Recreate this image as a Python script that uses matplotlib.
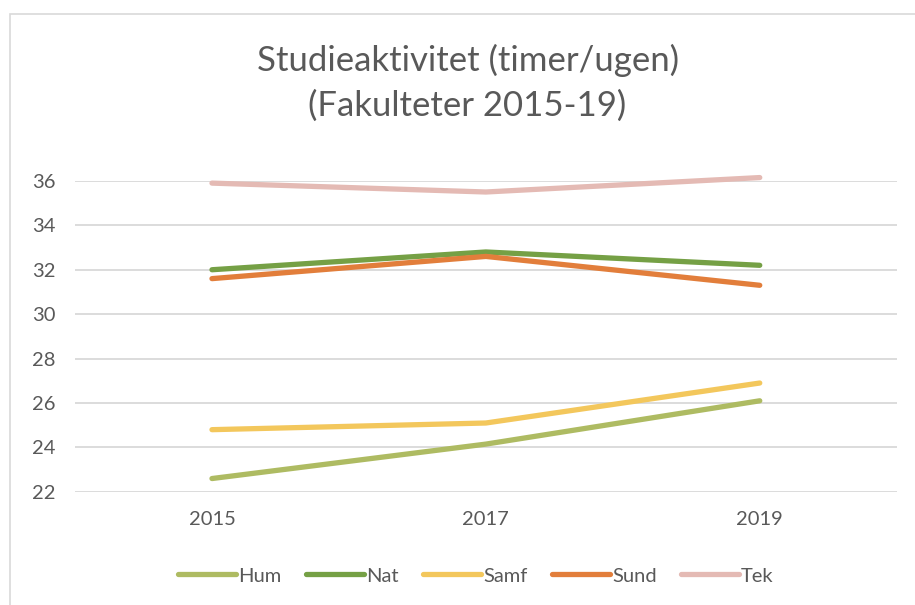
import matplotlib.pyplot as plt
from matplotlib.patches import Rectangle

years = ["2015", "2017", "2019"]
hum = [22.6, 24.15, 26.1]
nat = [32.0, 32.8, 32.2]
samf = [24.8, 25.1, 26.9]
sund = [31.6, 32.6, 31.3]
tek = [35.9, 35.5, 36.15]

names = ["Hum", "Nat", "Samf", "Sund", "Tek"]
series = [hum, nat, samf, sund, tek]
colors = ["#AEBB62", "#75A045", "#F3C75C", "#E27E3B", "#E4BAB4"]

plt.rcParams['font.family'] = ['Lato', 'DejaVu Sans']

fig = plt.figure(figsize=(9.15, 6.05), dpi=100)
ax = fig.add_axes([0.082, 0.187, 0.898, 0.514])

x = range(len(years))
for name, vals, c in zip(names, series, colors):
    ax.plot(x, vals, color=c, lw=3.8, solid_capstyle='round', label=name,
            clip_on=False)

ax.set_xlim(-0.5, 2.5)
ax.set_ylim(22, 36)
ax.set_yticks(range(22, 37, 2))
ax.set_xticks(list(x))
ax.set_xticklabels(years)
ax.grid(axis='y', color='#D9D9D9', lw=1.3)
ax.set_axisbelow(True)
for s in ax.spines.values():
    s.set_visible(False)
ax.tick_params(length=0, labelsize=14.5, colors='#595959')
ax.tick_params(axis='y', pad=14)
ax.tick_params(axis='x', pad=14)

# two-line title, centred over the plot area like Excel does
fig.text(0.511, 0.863, "Studieaktivitet (timer/ugen)\n(Fakulteter 2015-19)",
         ha='center', va='center', fontsize=25, color='#595959', linespacing=1.45)

fig.legend(loc='center', bbox_to_anchor=(0.52, 0.048), ncol=5, frameon=False,
           fontsize=14.5, labelcolor='#595959', handlelength=2.9, handletextpad=0.1,
           columnspacing=1.2)

fig.patches.append(Rectangle((10 / 915, -0.01), 1.0, 1 - 14 / 605 + 0.01,
                             transform=fig.transFigure, fill=False,
                             edgecolor='#D9D9D9', lw=1.2))

fig.savefig("out.png", dpi=100)
